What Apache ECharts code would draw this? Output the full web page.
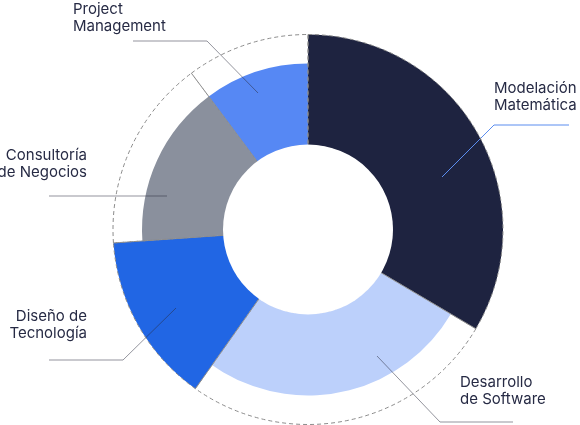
<!DOCTYPE html>
<html>
<head>
<meta charset="utf-8">
<script src="https://cdn.jsdelivr.net/npm/echarts@6/dist/echarts.min.js"></script>
<style>
  html, body { margin: 0; padding: 0; background: #ffffff; }
  #chart { width: 580px; height: 425px; }
</style>
</head>
<body>
<div id="chart"></div>
<script>
// ---- data ----
const categories = ['Modelación Matemática', 'Desarrollo de Software', 'Diseño de Tecnología', 'Consultoría de Negocios', 'Project Management'];
const values = [33.5, 26.3, 14.1, 15.9, 10.2];
const labelTexts = ['Modelación\nMatemática', 'Desarrollo\nde Software', 'Diseño de\nTecnología', 'Consultoría\nde Negocios', 'Project\nManagement'];
const tiers = ['large', 'small', 'large', 'small', 'small'];
const colors = ['#1e2340', '#bcd0fb', '#2166e4', '#8a909d', '#5688f4'];

// ---- layout (positions / styles, not data) ----
const CENTER = [308, 229.5];
const R_INNER = 84, R_LARGE = 195, R_SMALL = 166;
const leaderLayout = [
  { start: [442, 177], bend: [494, 125], end: [569, 125], text: [494, 97], align: 'left', color: '#5b8def' },
  { start: [377, 356], bend: [440, 422], end: [513, 422], text: [460, 391], align: 'left', color: 'rgba(40,42,60,0.5)' },
  { start: [176, 308], bend: [123, 360], end: [49, 360], text: [87, 325], align: 'right', color: 'rgba(40,42,60,0.5)' },
  { start: [167, 196], bend: [167, 196], end: [49, 196], text: [87, 164], align: 'right', color: 'rgba(40,42,60,0.5)' },
  { start: [258, 93], bend: [207, 41], end: [133, 41], text: [73, 17.5], align: 'left', color: 'rgba(40,42,60,0.5)' }
];

function fillData(tier) {
  return categories.map((c, i) => ({
    name: c,
    value: values[i],
    itemStyle: { color: tiers[i] === tier ? colors[i] : 'rgba(0,0,0,0)' }
  }));
}

const common = {
  type: 'pie',
  center: CENTER,
  startAngle: 90,
  clockwise: true,
  silent: true,
  animation: false,
  avoidLabelOverlap: false,
  label: { show: false },
  labelLine: { show: false },
  emphasis: { disabled: true }
};

const chart = echarts.init(document.getElementById('chart'), null, { renderer: 'canvas' });
chart.setOption({
  backgroundColor: '#ffffff',
  series: [
    Object.assign({}, common, { z: 1, radius: [R_INNER, R_LARGE], data: fillData('large') }),
    Object.assign({}, common, { z: 1, radius: [R_INNER, R_SMALL], data: fillData('small') }),
    Object.assign({}, common, {
      z: 3,
      radius: [R_INNER, R_LARGE],
      data: categories.map((c, i) => ({
        name: c,
        value: values[i],
        labelLine: { lineStyle: { color: leaderLayout[i].color, width: 1 } }
      })),
      itemStyle: { color: 'rgba(0,0,0,0)', borderColor: '#8c8c8c', borderWidth: 1, borderType: [4, 3] },
      label: {
        show: true,
        position: 'outside',
        formatter: (p) => labelTexts[p.dataIndex],
        fontFamily: 'Inter',
        fontSize: 15,
        lineHeight: 17,
        color: '#262a44'
      },
      labelLine: { show: true, length: 10, length2: 10, smooth: false },
      labelLayout: (p) => {
        const L = leaderLayout[p.dataIndex];
        return {
          x: L.text[0],
          y: L.text[1],
          align: L.align,
          verticalAlign: 'middle',
          labelLinePoints: [L.start, L.bend, L.end]
        };
      }
    }),
    Object.assign({}, common, {
      z: 4,
      radius: [0, R_INNER + 1],
      data: [{ name: 'hole', value: 1, itemStyle: { color: '#ffffff' } }]
    })
  ]
});
</script>
</body>
</html>
